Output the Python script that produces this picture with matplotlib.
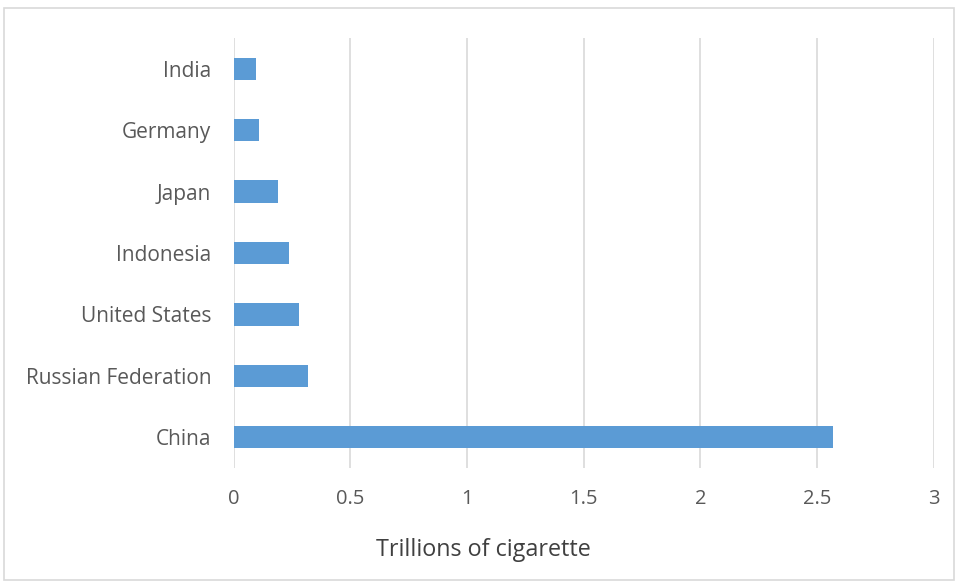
import matplotlib.pyplot as plt
from matplotlib.patches import Rectangle

# Cigarette consumption by country, trillions
countries = ["China", "Russian Federation", "United States", "Indonesia",
             "Japan", "Germany", "India"]
consumption = [2.57, 0.318, 0.279, 0.239, 0.189, 0.109, 0.096]
xticks = [0, 0.5, 1, 1.5, 2, 2.5, 3]
xticklabels = ["0", "0.5", "1", "1.5", "2", "2.5", "3"]

plt.rcParams['font.family'] = ['Open Sans', 'DejaVu Sans']

fig = plt.figure(figsize=(9.57, 5.83), dpi=100)
ax = fig.add_axes([0.244, 0.197, 0.7317, 0.738])

ax.barh(range(len(countries)), consumption, height=0.36, color="#5B9BD5",
        zorder=3)

ax.set_xlim(0, 3)
ax.set_ylim(-0.5, len(countries) - 0.5)
ax.set_xticks(xticks)
ax.set_xticklabels(xticklabels)
ax.set_yticks(range(len(countries)))
ax.set_yticklabels(countries)

ax.grid(axis="x", color="#D9D9D9", linewidth=1.2, zorder=0)
for s in ax.spines.values():
    s.set_visible(False)
ax.tick_params(axis="both", length=0, labelcolor="#595959")
ax.tick_params(axis="y", pad=16, labelsize=15)
ax.tick_params(axis="x", pad=15, labelsize=14.5)

# axis title sits centred under the whole chart
fig.text(483 / 957, 1 - 550 / 583, "Trillions of cigarette", fontsize=16.8,
         color="#404040", ha="center", va="center")

# light frame round the chart
fig.patches.append(Rectangle((4 / 957, 3 / 583), 950 / 957, 572 / 583,
                             transform=fig.transFigure, fill=False,
                             edgecolor="#D9D9D9", linewidth=1.2))

fig.savefig("out.png", dpi=100, facecolor="white")
